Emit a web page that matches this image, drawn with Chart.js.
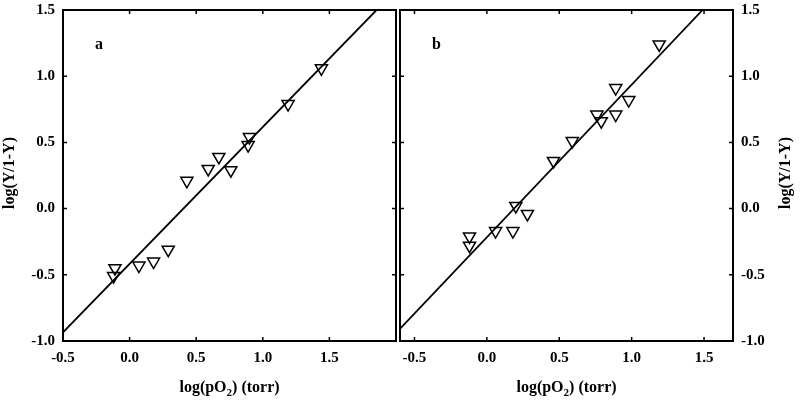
<!DOCTYPE html>
<html><head><meta charset="utf-8">
<script src="https://cdn.jsdelivr.net/npm/chart.js@4.4.1/dist/chart.umd.min.js"></script>
<style>
html,body{margin:0;padding:0;background:#fff;width:800px;height:403px;overflow:hidden}
canvas{position:absolute;top:0}
#ca{left:0}
#cb{left:398px}
</style></head><body>
<canvas id="ca" width="398" height="403"></canvas>
<canvas id="cb" width="402" height="403"></canvas>
<script>
// ---- data ----
const leftX  = [-0.11, -0.12, 0.07, 0.18, 0.29, 0.43, 0.59, 0.67, 0.76, 0.90, 0.89, 1.19, 1.44];
const leftY  = [-0.45, -0.51, -0.43, -0.40, -0.31, 0.21, 0.30, 0.39, 0.29, 0.54, 0.48, 0.79, 1.06];
const leftLineX = [-0.5, 1.854];
const leftLineY = [-0.934, 1.5];

const rightX = [-0.12, -0.12, 0.06, 0.18, 0.20, 0.28, 0.46, 0.59, 0.76, 0.79, 0.89, 0.89, 0.98, 1.19];
const rightY = [-0.21, -0.28, -0.17, -0.17, 0.02, -0.04, 0.36, 0.51, 0.71, 0.66, 0.71, 0.91, 0.82, 1.24];
const rightLineX = [-0.604, 1.49];
const rightLineY = [-0.912, 1.5];

const yTicks = [-1.0, -0.5, 0.0, 0.5, 1.0, 1.5];
const xTicksLeft = [-0.5, 0.0, 0.5, 1.0, 1.5, 2.0];
const xTicksRight = [-0.5, 0.0, 0.5, 1.0, 1.5];
const xTitleParts = ['log(pO', '2', ') (torr)'];
const yTitle = 'log(Y/1-Y)';

// ---- helpers ----
const FONT = "'Liberation Serif', 'Times New Roman', serif";
const pts = (xs, ys) => xs.map((x, i) => ({x: x, y: ys[i]}));
const fmt = v => (Math.abs(v) < 1e-9 ? 0 : v).toFixed(1);
const noPad = s => { s.paddingLeft = 0; s.paddingRight = 0; s.paddingTop = 0; s.paddingBottom = 0; };

function decor(cfg) {
  return {
    id: 'decor',
    afterDraw(chart) {
      const ctx = chart.ctx, a = chart.chartArea, xs = chart.scales.x, ys = chart.scales.y;
      ctx.save();
      ctx.strokeStyle = '#000';
      ctx.lineWidth = 2;
      ctx.strokeRect(a.left, a.top, a.right - a.left, a.bottom - a.top);
      ctx.lineWidth = 1.5;
      ctx.beginPath();
      xs.ticks.forEach(t => {
        const p = xs.getPixelForValue(t.value);
        if (p < a.left + 2 || p > a.right - 2) return;
        ctx.moveTo(p, a.bottom); ctx.lineTo(p, a.bottom - 4);
        ctx.moveTo(p, a.top); ctx.lineTo(p, a.top + 4);
      });
      ys.ticks.forEach(t => {
        const p = ys.getPixelForValue(t.value);
        if (p < a.top + 2 || p > a.bottom - 2) return;
        ctx.moveTo(a.left, p); ctx.lineTo(a.left + 4, p);
        ctx.moveTo(a.right, p); ctx.lineTo(a.right - 4, p);
      });
      ctx.stroke();
      ctx.fillStyle = '#000';
      // panel letter (position relative to plot area)
      ctx.font = 'bold 16px ' + FONT;
      ctx.textAlign = 'left';
      ctx.textBaseline = 'alphabetic';
      ctx.fillText(cfg.letter, a.left + 32, 49);
      // x title with subscript
      const big = 'bold 16px ' + FONT, small = 'bold 11px ' + FONT;
      ctx.font = big; const w0 = ctx.measureText(xTitleParts[0]).width, w2 = ctx.measureText(xTitleParts[2]).width;
      ctx.font = small; const w1 = ctx.measureText(xTitleParts[1]).width;
      let x = (a.left + a.right) / 2 - (w0 + w1 + w2) / 2;
      const by = 392;
      ctx.font = big; ctx.fillText(xTitleParts[0], x, by); x += w0;
      ctx.font = small; ctx.fillText(xTitleParts[1], x, by + 4); x += w1;
      ctx.font = big; ctx.fillText(xTitleParts[2], x, by);
      // y title
      ctx.translate(cfg.yTitleX, 173);
      ctx.rotate(-Math.PI / 2);
      ctx.font = big;
      ctx.textAlign = 'center';
      ctx.textBaseline = 'middle';
      ctx.fillText(yTitle, 0, 0);
      ctx.restore();
    }
  };
}

function makeChart(id, sx, sy, lx, ly, xmin, xmax, xTicks, yPos, yWidth, pad, cfg) {
  return new Chart(document.getElementById(id), {
    type: 'scatter',
    data: {
      datasets: [
        {
          type: 'line', data: pts(lx, ly), borderColor: '#000', borderWidth: 1.8,
          pointRadius: 0, fill: false, tension: 0, order: 2
        },
        {
          data: pts(sx, sy), pointStyle: 'triangle', rotation: 180, pointRadius: 7,
          pointBorderWidth: 1.5, pointBorderColor: '#000', pointBackgroundColor: 'rgba(0,0,0,0)',
          order: 1
        }
      ]
    },
    options: {
      responsive: false, animation: false, devicePixelRatio: 1,
      layout: { padding: pad, autoPadding: false },
      plugins: { legend: { display: false }, tooltip: { enabled: false } },
      scales: {
        x: {
          type: 'linear', min: xmin, max: xmax,
          grid: { display: false, drawTicks: false }, border: { display: false },
          afterBuildTicks: s => { s.ticks = xTicks.map(v => ({ value: v })); },
          afterFit: s => { s.height = 62; noPad(s); },
          ticks: {
            padding: 8, color: '#000', font: { family: FONT, size: 15, weight: 'bold' },
            maxRotation: 0, autoSkip: false,
            callback: v => (v > 1.9 ? '' : fmt(v))
          }
        },
        y: {
          type: 'linear', min: -1.0, max: 1.5, position: yPos,
          grid: { display: false, drawTicks: false }, border: { display: false },
          afterBuildTicks: s => { s.ticks = yTicks.map(v => ({ value: v })); },
          afterFit: s => { s.width = yWidth; noPad(s); },
          ticks: {
            padding: 8, color: '#000', font: { family: FONT, size: 15, weight: 'bold' },
            autoSkip: false, callback: v => fmt(v)
          }
        }
      }
    },
    plugins: [decor(cfg)]
  });
}

makeChart('ca', leftX, leftY, leftLineX, leftLineY, -0.5, 2.0, xTicksLeft, 'left', 63,
  { top: 10, right: 2, left: 0, bottom: 0 }, { letter: 'a', yTitleX: 10 });
makeChart('cb', rightX, rightY, rightLineX, rightLineY, -0.6, 1.7, xTicksRight, 'right', 67,
  { top: 10, right: 0, left: 2, bottom: 0 }, { letter: 'b', yTitleX: 388 });
</script>
</body></html>
